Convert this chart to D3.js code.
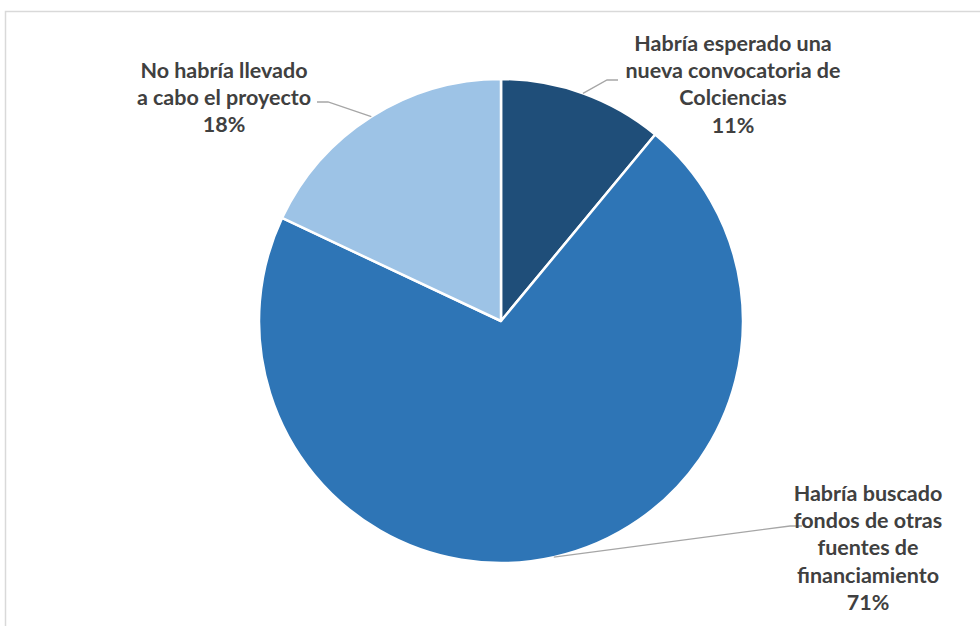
<!DOCTYPE html>
<html>
<head>
<meta charset="utf-8">
<script src="https://cdn.jsdelivr.net/npm/d3@7"></script>
<style>
  html, body { margin: 0; padding: 0; background: #fff; }
  svg { display: block; }
</style>
</head>
<body>
<svg id="chart" width="980" height="626"></svg>
<script>
// Survey responses: what the group would have done without the grant
const categories = [
  ["Habría esperado una", "nueva convocatoria de", "Colciencias"],
  ["Habría buscado", "fondos de otras", "fuentes de", "financiamiento"],
  ["No habría llevado", "a cabo el proyecto"]
];
const values = [11, 71, 18];
const colors = ["#1F4E79", "#2E75B6", "#9DC3E6"];

// Label placement: text block centre, first line y, leader elbow and end
const labelLayout = [
  { x: 733, y: 43, elbow: [607, 80], end: [618, 80] },
  { x: 868, y: 493, elbow: [790, 526], end: [802, 526] },
  { x: 224, y: 70, elbow: [328, 102], end: [317, 102] }
];

const svg = d3.select("#chart");
const W = 980, H = 626;

// Chart area frame (extends past the right and bottom edges)
svg.append("rect")
  .attr("x", 5.5).attr("y", 11.5)
  .attr("width", W + 10).attr("height", H + 10)
  .attr("fill", "none")
  .attr("stroke", "#D9D9D9")
  .attr("stroke-width", 1.5);

const cx = 501, cy = 321, r = 242;

const pie = d3.pie().sort(null).value(d => d)(values);
const arc = d3.arc().innerRadius(0).outerRadius(r);

const g = svg.append("g").attr("transform", `translate(${cx},${cy})`);

g.selectAll("path.slice")
  .data(pie)
  .join("path")
  .attr("class", "slice")
  .attr("d", arc)
  .attr("fill", (d, i) => colors[i])
  .attr("stroke", "#fff")
  .attr("stroke-width", 2.5)
  .attr("stroke-linejoin", "round");

// Leader lines from the slice rim at the mid angle
pie.forEach((d, i) => {
  const a = (d.startAngle + d.endAngle) / 2;
  const sx = cx + r * Math.sin(a), sy = cy - r * Math.cos(a);
  const L = labelLayout[i];
  svg.append("polyline")
    .attr("points", [[sx, sy], L.elbow, L.end].map(p => p.join(",")).join(" "))
    .attr("fill", "none")
    .attr("stroke", "#A6A6A6")
    .attr("stroke-width", 1.3);
});

// Labels: category lines followed by the percentage
const lineH = 27.4;
pie.forEach((d, i) => {
  const L = labelLayout[i];
  const lines = categories[i].concat([d3.format("d")(values[i]) + "%"]);
  const t = svg.append("text")
    .attr("text-anchor", "middle")
    .attr("font-family", "Lato, 'Open Sans', sans-serif")
    .attr("font-weight", "bold")
    .attr("font-size", 21.5)
    .attr("fill", "#404040");
  lines.forEach((s, k) => {
    t.append("tspan")
      .attr("x", L.x)
      .attr("y", L.y + k * lineH)
      .attr("dy", "0.35em")
      .text(s);
  });
});
</script>
</body>
</html>
